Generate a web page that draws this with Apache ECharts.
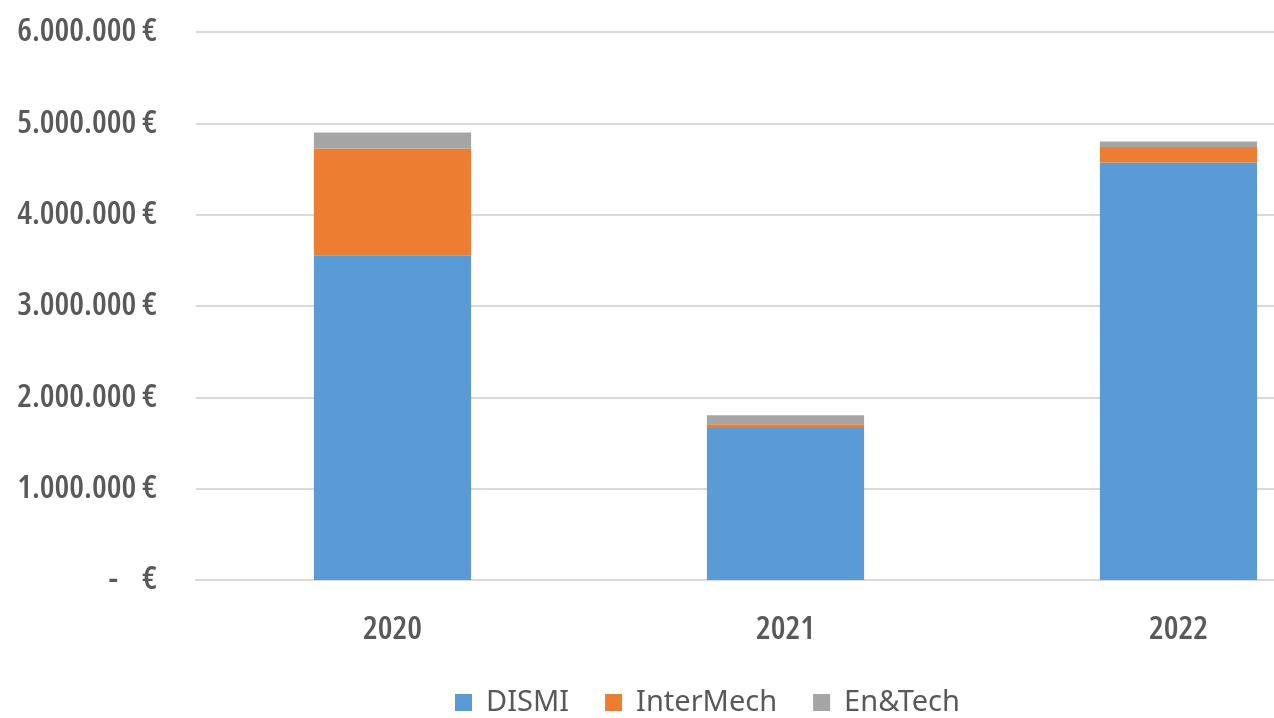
<!DOCTYPE html>
<html>
<head>
<meta charset="utf-8">
<script src="https://cdn.jsdelivr.net/npm/echarts@6/dist/echarts.min.js"></script>
<style>html,body{margin:0;padding:0;background:#fff}#c{width:1274px;height:718px}</style>
</head>
<body>
<div id="c"></div>
<script>
const categories = ['2020', '2021', '2022'];
const dismi = [3550000, 1665000, 4570000];
const interMech = [1175000, 40000, 170000];
const enTech = [175000, 100000, 60000];
const seriesNames = ['DISMI', 'InterMech', 'En&Tech'];
const yTicks = { min: 0, max: 6000000, interval: 1000000 };

const axisFont = "'Open Sans', sans-serif";
function fmt(v) {
  if (v === 0) return '-    €';
  return String(v).replace(/\B(?=(\d{3})+(?!\d))/g, '.') + ' €';
}
const chart = echarts.init(document.getElementById('c'), null, { renderer: 'canvas' });
chart.setOption({
  animation: false,
  color: ['#5B9BD5', '#ED7D31', '#A5A5A5'],
  grid: { left: 196, top: 32, width: 1179, height: 548, containLabel: false, outerBoundsMode: 'none' },
  legend: {
    top: 688, left: 455, padding: 0,
    data: seriesNames,
    icon: 'rect', itemWidth: 17, itemHeight: 17, itemGap: 36,
    textStyle: { fontFamily: "'Noto Sans', sans-serif", fontSize: 29, color: '#595959', padding: [0, 0, 0, 9] }
  },
  xAxis: {
    type: 'category', data: categories,
    axisLine: { lineStyle: { color: '#d9d9d9', width: 2 } },
    axisTick: { show: false },
    axisLabel: { fontFamily: axisFont, fontStyle: 'condensed', fontWeight: 600, fontSize: 33, color: '#595959', margin: 33 }
  },
  yAxis: {
    type: 'value', min: yTicks.min, max: yTicks.max, interval: yTicks.interval,
    axisLine: { show: false }, axisTick: { show: false },
    splitLine: { lineStyle: { color: '#d9d9d9', width: 2 } },
    axisLabel: { formatter: fmt, fontFamily: axisFont, fontStyle: 'condensed', fontWeight: 600, fontSize: 33, color: '#595959', margin: 39 }
  },
  series: [
    { name: seriesNames[0], type: 'bar', stack: 't', data: dismi, barWidth: '40%' },
    { name: seriesNames[1], type: 'bar', stack: 't', data: interMech, barWidth: '40%' },
    { name: seriesNames[2], type: 'bar', stack: 't', data: enTech, barWidth: '40%' }
  ]
});
</script>
</body>
</html>
